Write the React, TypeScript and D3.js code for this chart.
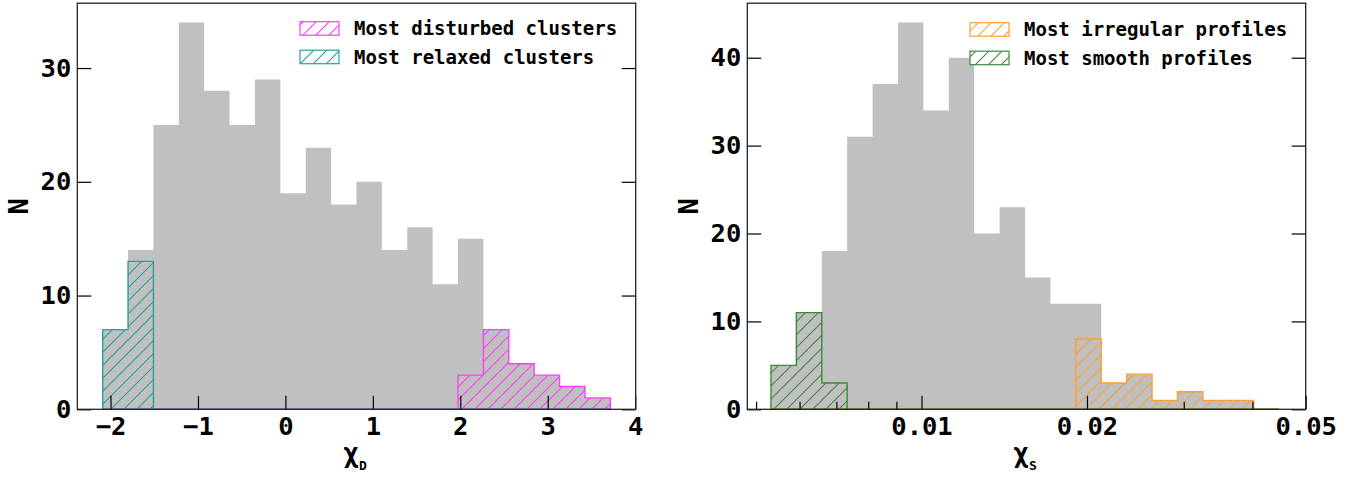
import * as d3 from "d3";
import { useEffect, useRef } from "react";

const W = 1359;
const H = 477;
const MONO = "'DejaVu Sans Mono', monospace";

// left panel: chi_D histogram (20 linear bins)
const dBinLo = -2.09;
const dBinWidth = 0.2903;
const dAll = [7, 14, 25, 34, 28, 25, 29, 19, 23, 18, 20, 14, 16, 11, 15, 7, 4, 3, 2, 1];
const dDisturbed = [0, 0, 0, 0, 0, 0, 0, 0, 0, 0, 0, 0, 0, 0, 3, 7, 4, 3, 2, 1];
const dRelaxed = [7, 13, 0, 0, 0, 0, 0, 0, 0, 0, 0, 0, 0, 0, 0, 0, 0, 0, 0, 0];
const dTicks = [-2, -1, 0, 1, 2, 3, 4];
const dYTicks = [0, 10, 20, 30];

// right panel: chi_S histogram (20 log bins)
const sBinLo = 0.005322;
const sBinHi = 0.04473;
const sAll = [5, 11, 18, 31, 37, 44, 34, 40, 20, 23, 15, 12, 12, 3, 4, 1, 2, 1, 1, 0];
const sIrregular = [0, 0, 0, 0, 0, 0, 0, 0, 0, 0, 0, 0, 8, 3, 4, 1, 2, 1, 1, 0];
const sSmooth = [5, 11, 3, 0, 0, 0, 0, 0, 0, 0, 0, 0, 0, 0, 0, 0, 0, 0, 0, 0];
const sTicks = [0.01, 0.02, 0.05];
const sTickLabels = ["0.01", "0.02", "0.05"];
const sMinorTicks = [0.005, 0.006, 0.007, 0.008, 0.009, 0.03, 0.04];
const sYTicks = [0, 10, 20, 30, 40];

const TOP = 3.2;
const BOTTOM = 409.3;

type Hatched = { counts: number[]; color: string; id: string; label: string };

function App() {
  const ref = useRef<SVGSVGElement>(null);

  useEffect(() => {
    const svg = d3.select(ref.current);
    svg.selectAll("*").remove();
    const defs = svg.append("defs");

    const hatch = (id: string, color: string) => {
      const p = defs
        .append("pattern")
        .attr("id", id)
        .attr("patternUnits", "userSpaceOnUse")
        .attr("width", 13)
        .attr("height", 13);
      p.append("path")
        .attr("d", "M-1,1 l2,-2 M0,13 l13,-13 M12,14 l2,-2")
        .attr("stroke", color)
        .attr("stroke-width", 1.1);
    };

    const stepPath = (edges: number[], counts: number[], x: any, y: any) => {
      let d = `M${x(edges[0])},${y(0)}`;
      counts.forEach((c, i) => {
        d += `L${x(edges[i])},${y(c)}L${x(edges[i + 1])},${y(c)}`;
      });
      d += `L${x(edges[edges.length - 1])},${y(0)}Z`;
      return d;
    };

    const drawPanel = (opts: {
      left: number;
      right: number;
      x: any;
      yMax: number;
      edges: number[];
      all: number[];
      hatched: Hatched[];
      xTicks: number[];
      xFormat: (d: any, i: number) => string;
      minor?: number[];
      yTicks: number[];
      sub: string;
      legendX: number;
      legendY: number;
    }) => {
      const { left, right, x } = opts;
      const y = d3.scaleLinear().domain([0, opts.yMax]).range([BOTTOM, TOP]);
      const g = svg.append("g");

      // gray full histogram
      g.append("path")
        .attr("d", stepPath(opts.edges, opts.all, x, y))
        .attr("fill", "#c0c0c0");

      // hatched subsets
      opts.hatched.forEach((h) => {
        hatch(h.id, h.color);
        g.append("path")
          .attr("d", stepPath(opts.edges, h.counts, x, y))
          .attr("fill", `url(#${h.id})`)
          .attr("stroke", h.color)
          .attr("stroke-width", 1.4);
      });

      const styleAxis = (a: any) => {
        a.select(".domain").remove();
        a.selectAll("line").attr("stroke", "#000").attr("stroke-width", 1.2);
        a.selectAll("text")
          .attr("font-family", MONO)
          .attr("font-weight", "bold")
          .attr("font-size", 25.5)
          .attr("fill", "#000");
      };

      // bottom axis
      g.append("g")
        .attr("transform", `translate(0,${BOTTOM})`)
        .call(
          d3
            .axisBottom(x)
            .tickValues(opts.xTicks)
            .tickSize(-13.5)
            .tickPadding(7.5)
            .tickFormat(opts.xFormat as any)
        )
        .call(styleAxis);

      if (opts.minor) {
        g.append("g")
          .attr("transform", `translate(0,${BOTTOM})`)
          .call(
            d3
              .axisBottom(x)
              .tickValues(opts.minor)
              .tickSize(-7.5)
              .tickFormat(() => "")
          )
          .call(styleAxis);
      }

      // left axis
      g.append("g")
        .attr("transform", `translate(${left},0)`)
        .call(d3.axisLeft(y).tickValues(opts.yTicks).tickSize(-14).tickPadding(6))
        .call(styleAxis);

      // right axis (ticks only)
      g.append("g")
        .attr("transform", `translate(${right},0)`)
        .call(
          d3
            .axisRight(y)
            .tickValues(opts.yTicks)
            .tickSize(-14)
            .tickFormat(() => "")
        )
        .call(styleAxis);

      // frame
      g.append("rect")
        .attr("x", left)
        .attr("y", TOP)
        .attr("width", right - left)
        .attr("height", BOTTOM - TOP)
        .attr("fill", "none")
        .attr("stroke", "#222")
        .attr("stroke-width", 1.3);

      // y label
      g.append("text")
        .attr("transform", `translate(${left - 49},${(TOP + BOTTOM) / 2}) rotate(-90)`)
        .attr("text-anchor", "middle")
        .attr("font-family", MONO)
        .attr("font-weight", "bold")
        .attr("font-size", 27)
        .text("N");

      // x label
      const xl = g
        .append("text")
        .attr("x", (left + right) / 2 - 1.5)
        .attr("y", 461.5)
        .attr("text-anchor", "middle")
        .attr("font-family", MONO)
        .attr("font-weight", "bold");
      xl.append("tspan").attr("font-size", 26).text("χ");
      xl.append("tspan").attr("font-size", 13).attr("dy", 8).text(opts.sub);

      // legend
      opts.hatched.forEach((h, i) => {
        const ly = opts.legendY + i * 28.5;
        g.append("rect")
          .attr("x", opts.legendX)
          .attr("y", ly)
          .attr("width", 39)
          .attr("height", 13.5)
          .attr("fill", "#fff");
        g.append("rect")
          .attr("x", opts.legendX)
          .attr("y", ly)
          .attr("width", 39)
          .attr("height", 13.5)
          .attr("fill", `url(#${h.id})`)
          .attr("stroke", h.color)
          .attr("stroke-width", 1.2);
        g.append("text")
          .attr("x", opts.legendX + 54)
          .attr("y", ly + 13.3)
          .attr("font-family", MONO)
          .attr("font-weight", "bold")
          .attr("font-size", 19)
          .text(h.label);
      });
    };

    // left panel
    const dEdges = d3.range(dAll.length + 1).map((i) => dBinLo + i * dBinWidth);
    drawPanel({
      left: 77.3,
      right: 635.7,
      x: d3.scaleLinear().domain([-2.38, 4.006]).range([77.3, 635.7]),
      yMax: 35.7,
      edges: dEdges,
      all: dAll,
      hatched: [
        { counts: dDisturbed, color: "#ff3cff", id: "hatch-dist", label: "Most disturbed clusters" },
        { counts: dRelaxed, color: "#2b9e9e", id: "hatch-relax", label: "Most relaxed clusters" },
      ],
      xTicks: dTicks,
      xFormat: d3.format("d"),
      yTicks: dYTicks,
      sub: "D",
      legendX: 300,
      legendY: 21.7,
    });

    // right panel
    const sEdges = d3
      .range(sAll.length + 1)
      .map((i) => Math.exp(Math.log(sBinLo) + (i / sAll.length) * Math.log(sBinHi / sBinLo)));
    drawPanel({
      left: 747.3,
      right: 1305.7,
      x: d3.scaleLog().domain([0.00482, 0.05]).range([747.3, 1305.7]),
      yMax: 46.2,
      edges: sEdges,
      all: sAll,
      hatched: [
        { counts: sIrregular, color: "#ffa033", id: "hatch-irr", label: "Most irregular profiles" },
        { counts: sSmooth, color: "#3b8a3b", id: "hatch-smooth", label: "Most smooth profiles" },
      ],
      xTicks: sTicks,
      xFormat: (_d, i) => sTickLabels[i],
      minor: sMinorTicks,
      yTicks: sYTicks,
      sub: "S",
      legendX: 970,
      legendY: 22.7,
    });
  }, []);

  return (
    <svg
      ref={ref}
      width={W}
      height={H}
      style={{ position: "absolute", left: 0, top: 0, background: "#fff", display: "block" }}
    />
  );
}

export default App;
